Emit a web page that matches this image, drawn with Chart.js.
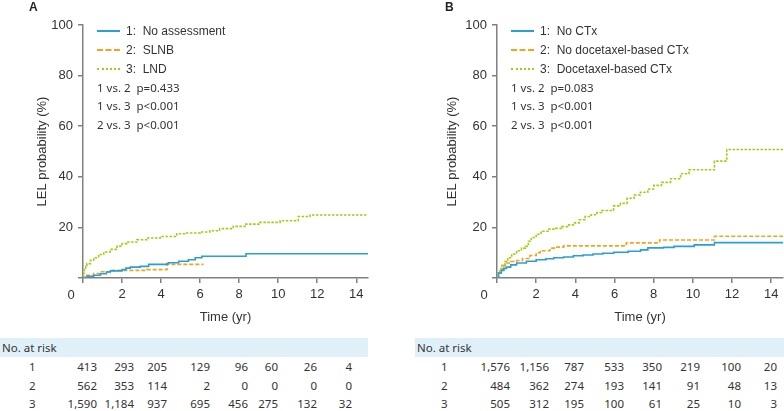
<!DOCTYPE html>
<html>
<head>
<meta charset="utf-8">
<script src="https://cdn.jsdelivr.net/npm/chart.js@4.4.1/dist/chart.umd.min.js"></script>
<style>
  body { margin: 0; background: #fff; }
  #wrap { position: relative; width: 784px; height: 411px; overflow: hidden; font-family: "Liberation Sans", Arial, sans-serif; color: #333; }
  canvas { position: absolute; top: 0; }
  .abs { position: absolute; white-space: pre; }
  .letter { font-weight: bold; font-size: 12px; color: #222; }
  .leg { font-size: 12px; line-height: 14px; }
  .pval { font-family: "Noto Sans", sans-serif; font-size: 11.5px; line-height: 14px; }
  .zero { font-size: 13px; line-height: 14px; transform: translate(-50%, -50%); }
  .bar { background: #e0f0f9; height: 19px; }
  .tab { font-family: "Noto Sans", sans-serif; font-size: 11.5px; line-height: 14px; }
</style>
</head>
<body>
<div id="wrap">
  <canvas id="grafA" width="392" height="330" style="left:0"></canvas>
  <canvas id="grafB" width="392" height="330" style="left:392px"></canvas>
</div>
<script>
// curvas panel A (tiempo en años, probabilidad %)
const tA1 = [0, 0.2, 0.55, 0.89, 1.2, 1.4, 2.0, 2.2, 2.42, 2.93, 3.36, 4.3, 4.38, 4.9, 5.4, 5.75, 6.09, 8.35, 14.6];
const vA1 = [0, 0.7, 1.1, 1.7, 2.4, 2.8, 3.3, 3.9, 4.3, 4.6, 5.4, 5.7, 6.0, 6.6, 7.2, 8.0, 8.6, 9.6, 9.6];
const tA2 = [0, 0.1, 0.2, 0.55, 0.89, 1.4, 3.27, 4.3, 6.17];
const vA2 = [0, 0.6, 1.1, 1.8, 2.5, 3.0, 3.3, 5.4, 5.4];
const tA3 = [0, 0.03, 0.07, 0.14, 0.2, 0.38, 0.55, 0.8, 1.06, 1.4, 1.74, 2.0, 2.25, 2.76, 3.27, 3.96, 4.8, 5.3, 6.0, 6.5, 7.0, 7.7, 8.3, 9.07, 10.1, 11.03, 11.63, 14.6];
const vA3 = [0, 2.0, 3.3, 4.6, 5.7, 7.0, 8.0, 9.3, 10.3, 11.3, 12.6, 13.6, 14.2, 15.1, 15.8, 16.4, 17.5, 17.8, 18.2, 18.7, 19.5, 20.4, 21.3, 22.0, 22.6, 24.3, 24.9, 24.9];

// curvas panel B
const tB1 = [0, 0.08, 0.22, 0.35, 0.48, 0.7, 1.0, 1.5, 2.0, 2.5, 2.9, 3.4, 3.9, 4.4, 4.9, 5.4, 5.96, 6.7, 7.33, 7.7, 8.5, 9.04, 10.07, 11.1, 14.6];
const vB1 = [0, 2.0, 3.0, 3.8, 4.3, 5.2, 5.9, 6.6, 7.2, 7.6, 8.0, 8.3, 8.8, 9.1, 9.5, 9.8, 10.2, 10.6, 11.1, 11.9, 12.1, 12.5, 13.1, 14.0, 14.0];
const tB2 = [0, 0.08, 0.22, 0.35, 0.48, 0.7, 1.0, 1.3, 1.68, 2.0, 2.2, 2.7, 3.0, 3.4, 6.6, 8.3, 11.1, 14.6];
const vB2 = [0, 2.0, 3.7, 5.0, 5.9, 6.5, 6.9, 7.7, 8.9, 10.0, 10.8, 11.8, 12.2, 12.7, 13.9, 15.0, 16.5, 16.5];
const tB3 = [0, 0.05, 0.14, 0.25, 0.4, 0.55, 0.75, 1.0, 1.25, 1.45, 1.6, 1.75, 2.0, 2.25, 2.6, 3.0, 3.3, 3.6, 3.9, 4.2, 4.5, 4.8, 5.1, 5.35, 5.95, 6.3, 6.64, 7.0, 7.32, 7.7, 8.0, 8.4, 8.86, 9.37, 9.8, 11.1, 11.73, 14.6];
const vB3 = [0, 2.0, 3.5, 5.0, 6.5, 8.0, 9.5, 10.8, 11.8, 12.5, 14.5, 16.0, 17.3, 18.5, 19.3, 19.6, 20.3, 21.0, 21.8, 23.0, 24.3, 25.0, 25.9, 26.7, 28.5, 29.5, 31.5, 32.8, 33.9, 35.2, 36.6, 37.8, 39.2, 41.2, 42.8, 46.2, 50.8, 50.8];

const legendA = ['1:  No assessment', '2:  SLNB', '3:  LND'];
const legendB = ['1:  No CTx', '2:  No docetaxel-based CTx', '3:  Docetaxel-based CTx'];
const pvalsA = ['1 vs. 2  p=0.433', '1 vs. 3  p<0.001', '2 vs. 3  p<0.001'];
const pvalsB = ['1 vs. 2  p=0.083', '1 vs. 3  p<0.001', '2 vs. 3  p<0.001'];

// numero en riesgo
const riskA1 = ['413', '293', '205', '129', '96', '60', '26', '4'];
const riskA2 = ['562', '353', '114', '2', '0', '0', '0', '0'];
const riskA3 = ['1,590', '1,184', '937', '695', '456', '275', '132', '32'];
const riskB1 = ['1,576', '1,156', '787', '533', '350', '219', '100', '20'];
const riskB2 = ['484', '362', '274', '193', '141', '91', '48', '13'];
const riskB3 = ['505', '312', '195', '100', '61', '25', '10', '3'];

const colores = ['#2a9ed8', '#f5a21c', '#a9c916'];
const dashes = [[], [4, 2], [2.5, 1.5]];

function puntos(ts, vs) {
    return ts.map((t, i) => ({ x: t, y: vs[i] }));
}

function makeChart(id, series, yWidth, yTitlePad, padRight) {
    const ctx = document.getElementById(id).getContext('2d');
    const datasets = series.map((s, i) => ({
        data: puntos(s[0], s[1]),
        borderColor: colores[i],
        borderWidth: 1.6,
        borderDash: dashes[i],
        pointRadius: 0,
        stepped: 'before',
        fill: false
    }));
    return new Chart(ctx, {
        type: 'line',
        data: { datasets: datasets },
        options: {
            responsive: false,
            animation: { duration: 0 },
            layout: { padding: { top: 25, right: padRight, left: 0, bottom: 0 } },
            plugins: { legend: { display: false }, tooltip: { enabled: false } },
            scales: {
                x: {
                    type: 'linear', min: 0, max: 14.6,
                    afterFit: (scale) => { scale.height = 52; },
                    ticks: {
                        stepSize: 2, includeBounds: false, padding: 4,
                        color: '#333', font: { family: 'Liberation Sans', size: 13 },
                        callback: (v) => v === 0 ? '' : v
                    },
                    grid: { drawOnChartArea: false, drawTicks: true, tickLength: 5, color: '#808080', lineWidth: 1.5 },
                    border: { color: '#808080', width: 1.5 },
                    title: { display: true, text: 'Time (yr)', color: '#333', font: { family: 'Liberation Sans', size: 13 }, padding: { top: 0, bottom: 5 } }
                },
                y: {
                    min: 0, max: 100,
                    afterFit: (scale) => { scale.width = yWidth; },
                    ticks: {
                        stepSize: 20, padding: 5,
                        color: '#333', font: { family: 'Liberation Sans', size: 13 },
                        callback: (v) => v === 0 ? '' : v
                    },
                    grid: { drawOnChartArea: false, drawTicks: true, tickLength: 5, color: '#808080', lineWidth: 1.5 },
                    border: { color: '#808080', width: 1.5 },
                    title: { display: true, text: 'LEL probability (%)', color: '#333', font: { family: 'Liberation Sans', size: 13 }, padding: { top: yTitlePad, bottom: 0 } }
                }
            }
        }
    });
}

function addText(cls, txt, x, y, extra) {
    const el = document.createElement('div');
    el.className = 'abs ' + cls;
    el.textContent = txt;
    el.style.left = x + 'px';
    el.style.top = y + 'px';
    if (extra) Object.assign(el.style, extra);
    document.getElementById('wrap').appendChild(el);
    return el;
}

function addLegend(labels, pvals, lineX, textX) {
    const ys = [31, 50, 69];
    labels.forEach((lab, i) => {
        const ln = document.createElement('div');
        ln.className = 'abs';
        ln.style.left = lineX + 'px';
        ln.style.top = (ys[i] - 1) + 'px';
        ln.style.width = '23px';
        ln.style.height = '0';
        ln.style.borderTop = '2px ' + (i === 0 ? 'solid' : (i === 1 ? 'dashed' : 'dotted')) + ' ' + colores[i];
        document.getElementById('wrap').appendChild(ln);
        addText('leg', lab, textX, ys[i] - 7);
    });
    const py = [88, 106, 125];
    pvals.forEach((p, i) => addText('pval', p, lineX, py[i] - 7));
}

function addTable(rows, barX, barW, labelX, rightEdges) {
    const bar = document.createElement('div');
    bar.className = 'abs bar';
    bar.style.left = barX + 'px';
    bar.style.top = '338px';
    bar.style.width = barW + 'px';
    document.getElementById('wrap').appendChild(bar);
    addText('tab', 'No. at risk', barX + 2, 341);
    const ry = [367, 386, 404];
    rows.forEach((r, i) => {
        addText('tab', String(i + 1), labelX, ry[i] - 7);
        r.forEach((v, j) => {
            addText('tab', v, 0, ry[i] - 7, { left: 'auto', right: (784 - rightEdges[j]) + 'px' });
        });
    });
}

function main() {
    makeChart('grafA', [[tA1, vA1], [tA2, vA2], [tA3, vA3]], 83, 34.7, 24);
    makeChart('grafB', [[tB1, vB1], [tB2, vB2], [tB3, vB3]], 105, 52.7, 1);

    addText('letter', 'A', 29, 0);
    addText('letter', 'B', 445, 0);
    addText('zero', '0', 71, 295);
    addText('zero', '0', 484, 295);

    addLegend(legendA, pvalsA, 97, 126);
    addLegend(legendB, pvalsB, 511, 540);

    addTable([riskA1, riskA2, riskA3], 0, 368, 29, [97, 134, 167, 210, 248, 278, 317, 352]);
    addTable([riskB1, riskB2, riskB3], 415, 369, 441, [510, 549, 584, 624, 662, 700, 741, 777]);
}

document.addEventListener('DOMContentLoaded', function() {
    main();
});
</script>
</body>
</html>
